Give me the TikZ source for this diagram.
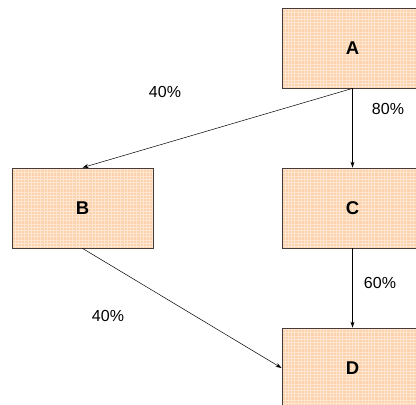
\documentclass[tikz,border=0pt]{standalone}
\usepackage{fontspec}
\usetikzlibrary{arrows.meta}
\setmainfont{Liberation Sans}
\definecolor{boxfill}{RGB}{252,210,172}
\definecolor{boxgrid}{RGB}{254,230,208}
\definecolor{boxline}{RGB}{70,60,55}
\begin{document}
\begin{tikzpicture}[x=1pt,y=1pt,
  blk/.style={draw=boxline,line width=0.8pt,fill=boxfill,minimum width=141pt,minimum height=80pt,
    inner sep=0pt,font=\fontsize{18.5}{20}\selectfont\bfseries,
    path picture={\draw[boxgrid,line width=0.6pt](path picture bounding box.south west) grid[step=3.2pt](path picture bounding box.north east);}},
  pct/.style={font=\fontsize{16}{18}\selectfont},
  arr/.style={-{Stealth[length=6pt,width=4pt]},line width=0.5pt}]
\useasboundingbox(0,0)rectangle(416,-405);
\node[blk](A)at(352.5,-48){A};
\node[blk](B)at(82.5,-208){B};
\node[blk](C)at(352.5,-208){C};
\node[blk](D)at(352.5,-368){D};
\draw[arr](A.south)--(B.north);
\draw[arr](A.south)--(C.north);
\draw[arr](C.south)--(D.north);
\draw[arr](B.south)--(D.west);
\node[pct](pAB)at(165,-92){40\%};
\node[pct](pAC)at(388,-109){80\%};
\node[pct](pCD)at(380,-283){60\%};
\node[pct](pBD)at(108,-316){40\%};
\end{tikzpicture}
\end{document}
